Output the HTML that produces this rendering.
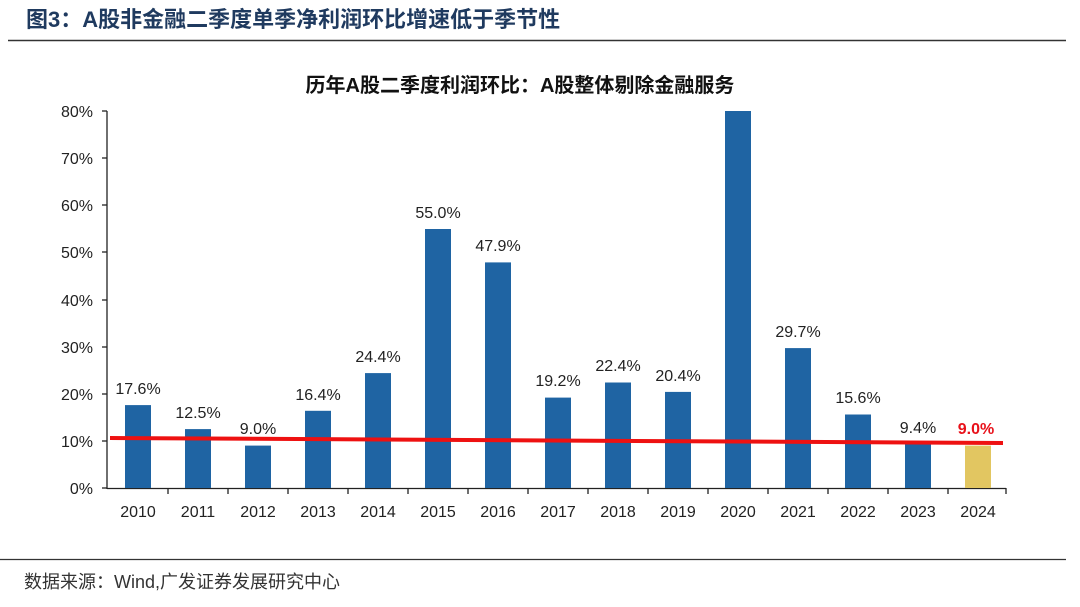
<!DOCTYPE html><html><head><meta charset="utf-8"><style>
body{margin:0;background:#fff;width:1080px;height:602px;overflow:hidden}
svg text{font-family:"Liberation Sans","Noto Sans CJK SC",sans-serif}
</style></head><body>
<svg width="1080" height="602" viewBox="0 0 1080 602">
<text x="26" y="27" font-size="22" font-weight="bold" fill="#1f3a5f">图3：A股非金融二季度单季净利润环比增速低于季节性</text>
<line x1="8" y1="40.5" x2="1066" y2="40.5" stroke="#333" stroke-width="1.5"/>
<text x="520" y="92" font-size="20" font-weight="bold" fill="#111" text-anchor="middle">历年A股二季度利润环比：A股整体剔除金融服务</text>
<g font-size="16" fill="#222" text-anchor="end">
<text x="93" y="494">0%</text><text x="93" y="447">10%</text><text x="93" y="400">20%</text><text x="93" y="353">30%</text><text x="93" y="306">40%</text><text x="93" y="258">50%</text><text x="93" y="211">60%</text><text x="93" y="164">70%</text><text x="93" y="117">80%</text>
</g>
<g stroke="#222" stroke-width="1.3">
<line x1="107" y1="111" x2="107" y2="489"/>
<line x1="102" y1="111" x2="107" y2="111"/><line x1="102" y1="158" x2="107" y2="158"/><line x1="102" y1="205" x2="107" y2="205"/><line x1="102" y1="252" x2="107" y2="252"/><line x1="102" y1="300" x2="107" y2="300"/><line x1="102" y1="347" x2="107" y2="347"/><line x1="102" y1="394" x2="107" y2="394"/><line x1="102" y1="441" x2="107" y2="441"/><line x1="102" y1="488" x2="107" y2="488"/>
<line x1="107" y1="488.5" x2="1006" y2="488.5"/>
<line x1="168" y1="488" x2="168" y2="494"/><line x1="228" y1="488" x2="228" y2="494"/><line x1="288" y1="488" x2="288" y2="494"/><line x1="348" y1="488" x2="348" y2="494"/><line x1="408" y1="488" x2="408" y2="494"/><line x1="468" y1="488" x2="468" y2="494"/><line x1="528" y1="488" x2="528" y2="494"/><line x1="588" y1="488" x2="588" y2="494"/><line x1="648" y1="488" x2="648" y2="494"/><line x1="708" y1="488" x2="708" y2="494"/><line x1="768" y1="488" x2="768" y2="494"/><line x1="828" y1="488" x2="828" y2="494"/><line x1="888" y1="488" x2="888" y2="494"/><line x1="948" y1="488" x2="948" y2="494"/><line x1="1006" y1="488" x2="1006" y2="494"/>
</g>
<g fill="#1f64a3">
<rect x="125" y="405.1" width="26" height="82.9"/>
<rect x="185" y="429.1" width="26" height="58.9"/>
<rect x="245" y="445.6" width="26" height="42.4"/>
<rect x="305" y="410.8" width="26" height="77.2"/>
<rect x="365" y="373.1" width="26" height="114.9"/>
<rect x="425" y="229" width="26" height="259"/>
<rect x="485" y="262.4" width="26" height="225.6"/>
<rect x="545" y="397.6" width="26" height="90.4"/>
<rect x="605" y="382.5" width="26" height="105.5"/>
<rect x="665" y="391.9" width="26" height="96.1"/>
<rect x="725" y="111" width="26" height="377"/>
<rect x="785" y="348.1" width="26" height="139.9"/>
<rect x="845" y="414.5" width="26" height="73.5"/>
<rect x="905" y="443.7" width="26" height="44.3"/>
</g>
<rect x="965" y="445.6" width="26" height="42.4" fill="#e2c661"/>
<g font-size="16" fill="#222" text-anchor="middle">
<text x="138" y="394">17.6%</text><text x="198" y="418">12.5%</text><text x="258" y="434">9.0%</text><text x="318" y="400">16.4%</text><text x="378" y="362">24.4%</text><text x="438" y="218">55.0%</text><text x="498" y="251">47.9%</text><text x="558" y="386">19.2%</text><text x="618" y="371">22.4%</text><text x="678" y="381">20.4%</text><text x="798" y="337">29.7%</text><text x="858" y="403">15.6%</text><text x="918" y="433">9.4%</text>
</g>
<g font-size="16" fill="#222" text-anchor="middle">
<text x="138" y="517">2010</text><text x="198" y="517">2011</text><text x="258" y="517">2012</text><text x="318" y="517">2013</text><text x="378" y="517">2014</text><text x="438" y="517">2015</text><text x="498" y="517">2016</text><text x="558" y="517">2017</text><text x="618" y="517">2018</text><text x="678" y="517">2019</text><text x="738" y="517">2020</text><text x="798" y="517">2021</text><text x="858" y="517">2022</text><text x="918" y="517">2023</text><text x="978" y="517">2024</text>
</g>
<line x1="110" y1="438" x2="1003" y2="443" stroke="#ee1111" stroke-width="4"/>
<text x="976" y="434" font-size="16" font-weight="bold" fill="#e8111a" text-anchor="middle">9.0%</text>
<line x1="0" y1="559.5" x2="1066" y2="559.5" stroke="#333" stroke-width="1.3"/>
<text x="24" y="588" font-size="18" fill="#333">数据来源：Wind,广发证券发展研究中心</text>
</svg>
</body></html>
